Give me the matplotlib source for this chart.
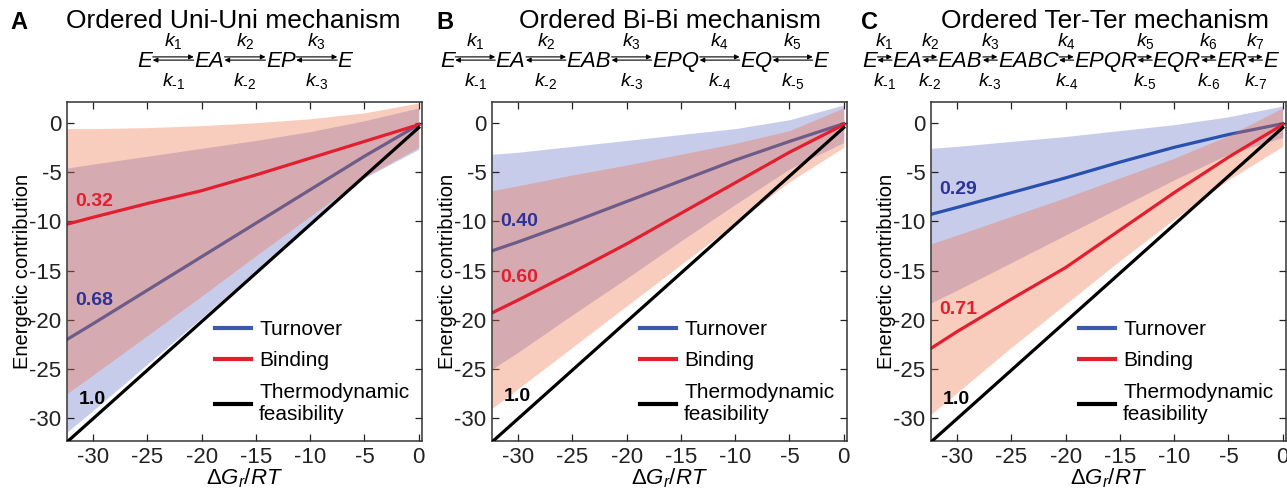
import numpy as np
import matplotlib
matplotlib.use('Agg')
import matplotlib.pyplot as plt
from matplotlib.patches import FancyArrowPatch
from matplotlib.lines import Line2D

plt.rcParams['font.family'] = ['Liberation Sans', 'DejaVu Sans']
plt.rcParams['mathtext.fontset'] = 'custom'
plt.rcParams['mathtext.rm'] = 'Liberation Sans'
plt.rcParams['mathtext.it'] = 'Liberation Sans:italic'
plt.rcParams['mathtext.bf'] = 'Liberation Sans:bold'
plt.rcParams['axes.unicode_minus'] = False

# ---- data ----
dg = [-32.4, -30, -25, -20, -15, -10, -5, 0]

# A: Ordered Uni-Uni
turn_a = [-22.0, -20.4, -17.0, -13.6, -10.2, -6.8, -3.4, -0.2]
turn_a_lo = [-31.4, -29.2, -24.5, -19.8, -15.0, -10.3, -5.6, -2.7]
turn_a_hi = [-4.6, -4.2, -3.4, -2.6, -1.8, -0.9, 0.2, 1.5]
bind_a = [-10.3, -9.6, -8.2, -6.9, -5.3, -3.6, -1.9, -0.2]
bind_a_lo = [-27.5, -25.6, -21.6, -17.6, -13.5, -9.5, -5.5, -2.5]
bind_a_hi = [-0.6, -0.6, -0.5, -0.3, 0.0, 0.4, 1.0, 2.0]

# B: Ordered Bi-Bi
turn_b = [-13.0, -12.1, -10.1, -8.0, -5.9, -3.8, -1.9, -0.1]
turn_b_lo = [-25.0, -23.3, -19.5, -15.8, -12.0, -8.3, -4.7, -2.0]
turn_b_hi = [-3.2, -3.0, -2.4, -1.8, -1.2, -0.6, 0.3, 1.8]
bind_b = [-19.3, -18.0, -15.2, -12.3, -9.2, -6.1, -3.0, -0.2]
bind_b_lo = [-29.0, -27.0, -22.8, -18.6, -14.4, -10.2, -6.0, -2.5]
bind_b_hi = [-6.9, -6.4, -5.3, -4.3, -3.2, -2.1, -0.8, 1.5]

# C: Ordered Ter-Ter
turn_c = [-9.3, -8.6, -7.1, -5.6, -4.0, -2.5, -1.2, -0.1]
turn_c_lo = [-18.3, -17.0, -14.2, -11.4, -8.6, -5.8, -3.2, -1.5]
turn_c_hi = [-2.6, -2.4, -1.9, -1.4, -0.8, -0.2, 0.6, 1.7]
bind_c = [-22.9, -21.2, -17.9, -14.7, -10.9, -7.1, -3.5, -0.2]
bind_c_lo = [-29.6, -27.4, -22.8, -18.4, -14.0, -9.8, -5.8, -2.4]
bind_c_hi = [-12.3, -11.4, -9.5, -7.6, -5.6, -3.6, -1.3, 1.5]

# thermodynamic limit
thermo_x = [-32.4, 0]
thermo_y = [-32.4, -0.5]

frac_turn = ['0.68', '0.40', '0.29']
frac_bind = ['0.32', '0.60', '0.71']
frac_thermo = '1.0'

letters = ['A', 'B', 'C']
titles = ['Ordered Uni-Uni mechanism', 'Ordered Bi-Bi mechanism', 'Ordered Ter-Ter mechanism']
species = [['E', 'EA', 'EP', 'E'],
           ['E', 'EA', 'EAB', 'EPQ', 'EQ', 'E'],
           ['E', 'EA', 'EAB', 'EABC', 'EPQR', 'EQR', 'ER', 'E']]

# ---- styles ----
c_turn = '#2850ae'
c_turn_fill = '#4759bd'
c_bind = '#e41e2e'
c_bind_fill = '#f07045'
c_lab_turn = '#2d3296'

W, H = 1287, 488
fig = plt.figure(figsize=(W / 100, H / 100), dpi=100)

ax_left = [67, 492, 931]
ax_w = 355
ax_top, ax_bot = 102, 441
# label y positions (data units): turnover, binding, thermo
lab_y = [(-18.0, -8.0, -28.1), (-10.0, -15.7, -27.8), (-6.8, -19.0, -28.1)]

turn = [turn_a, turn_b, turn_c]
turn_lo = [turn_a_lo, turn_b_lo, turn_c_lo]
turn_hi = [turn_a_hi, turn_b_hi, turn_c_hi]
bind = [bind_a, bind_b, bind_c]
bind_lo = [bind_a_lo, bind_b_lo, bind_c_lo]
bind_hi = [bind_a_hi, bind_b_hi, bind_c_hi]

for i in range(3):
    ax = fig.add_axes([ax_left[i] / W, 1 - ax_bot / H, ax_w / W, (ax_bot - ax_top) / H])
    ax.fill_between(dg, turn_lo[i], turn_hi[i], color=c_turn_fill, alpha=0.3, lw=0, zorder=1)
    ax.plot(dg, turn[i], color=c_turn, lw=2.3, zorder=1.5)
    ax.fill_between(dg, bind_lo[i], bind_hi[i], color=c_bind_fill, alpha=0.35, lw=0, zorder=2)
    ax.plot(dg, bind[i], color=c_bind, lw=2.3, zorder=2.5)
    ax.plot(thermo_x, thermo_y, color='k', lw=2.3, zorder=3)

    ax.set_xlim(-32.4, 0.3)
    ax.set_ylim(-32.3, 2.1)
    ax.set_xticks([-30, -25, -20, -15, -10, -5, 0])
    ax.set_yticks([-30, -25, -20, -15, -10, -5, 0])
    ax.tick_params(direction='in', top=True, right=True, length=5, width=0.9,
                   labelsize=16, pad=4, colors='#222222')
    for sp in ax.spines.values():
        sp.set_linewidth(1.1)
        sp.set_color('#333333')
    ax.set_xlabel(r'$\Delta G_r/RT$', fontsize=16, labelpad=-1)
    ax.set_ylabel('Energetic contribution', fontsize=14.5, labelpad=-2)

    ty, by, hy = lab_y[i]
    ax.text(-31.6, ty, frac_turn[i], color=c_lab_turn, fontsize=14, fontweight='bold', va='center', zorder=4)
    ax.text(-31.6, by, frac_bind[i], color=c_bind, fontsize=14, fontweight='bold', va='center', zorder=4)
    ax.text(-31.3, hy, frac_thermo, color='k', fontsize=14, fontweight='bold', va='center', zorder=4)

    handles = [Line2D([], [], color='#3c5aaa', lw=3),
               Line2D([], [], color=c_bind, lw=3),
               Line2D([], [], color='k', lw=3)]
    ax.legend(handles, ['Turnover', 'Binding', 'Thermodynamic\nfeasibility'],
              loc='lower left', bbox_to_anchor=(0.365, -0.005), frameon=False,
              fontsize=15, handlelength=1.7, handletextpad=0.4, labelspacing=0.6)

# overlay in pixel coordinates for titles and reaction schemes
ov = fig.add_axes([0, 0, 1, 1])
ov.set_xlim(0, W)
ov.set_ylim(H, 0)
ov.set_axis_off()

title_x = [233, 670, 1105]
letter_x = [10, 436, 861]
scheme_x = [245, 634, 1070]
gaps = [42, 41, 15.5]
rend = fig.canvas.get_renderer()


def draw_scheme(names, xc, gap, base=67):
    items = [ov.text(0, base, s, fontsize=16, style='italic', ha='left', va='baseline')
             for s in names]
    widths = [t.get_window_extent(rend).width for t in items]
    total = sum(widths) + gap * (len(names) - 1)
    x = xc - total / 2
    ya = base - 8.5
    for j, t in enumerate(items):
        t.set_x(x)
        x += widths[j]
        if j < len(names) - 1:
            a0, a1 = x + 0.5, x + gap - 0.5
            ov.add_patch(FancyArrowPatch((a0, ya - 1.6), (a1, ya - 1.6), arrowstyle='-|>',
                                         mutation_scale=7, lw=0.8, color='k',
                                         shrinkA=0, shrinkB=0))
            ov.add_patch(FancyArrowPatch((a1, ya + 1.6), (a0, ya + 1.6), arrowstyle='-|>',
                                         mutation_scale=7, lw=0.8, color='k',
                                         shrinkA=0, shrinkB=0))
            xm = (a0 + a1) / 2
            ov.text(xm, base - 21, r'$k_{%d}$' % (j + 1), fontsize=14, ha='center', va='baseline')
            ov.text(xm, base + 19, '$k_{\u2010%d}$' % (j + 1), fontsize=14, ha='center', va='baseline')
            x += gap


for i in range(3):
    ov.text(letter_x[i], 29, letters[i], fontsize=17, fontweight='bold', ha='left', va='baseline')
    ov.text(title_x[i], 28, titles[i], fontsize=19, ha='center', va='baseline')
    draw_scheme(species[i], scheme_x[i], gaps[i])

fig.savefig('out.png', dpi=100)
